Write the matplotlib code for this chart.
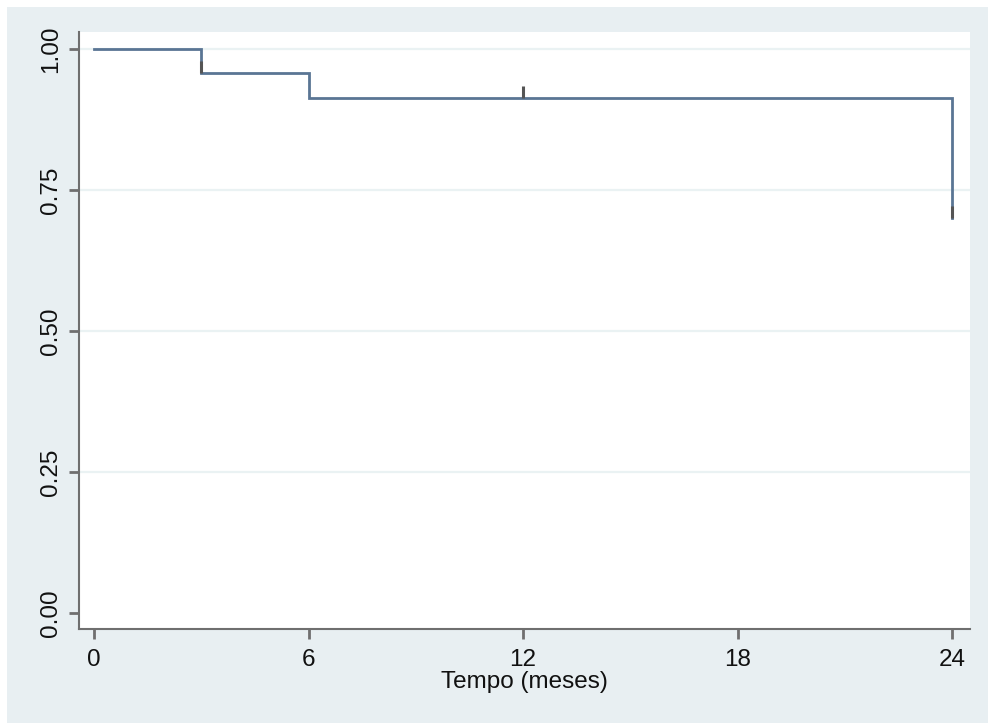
import matplotlib
matplotlib.use("Agg")
import matplotlib.pyplot as plt
from matplotlib.patches import Rectangle

# Kaplan-Meier step data (time in months, survival)
times = [0, 3, 6, 24]
survival = [1.0, 0.957, 0.913, 0.70]
end_time = 24
# censoring marks (time, survival at mark)
censor_times = [3, 12, 24]
censor_surv = [0.957, 0.913, 0.70]

x_ticks = [0, 6, 12, 18, 24]
y_ticks = [0.00, 0.25, 0.50, 0.75, 1.00]
y_tick_labels = ["0.00", "0.25", "0.50", "0.75", "1.00"]
x_label = "Tempo (meses)"

plt.rcParams['font.family'] = ['Liberation Sans', 'DejaVu Sans']

W, H = 988, 723
fig = plt.figure(figsize=(W / 100, H / 100), dpi=100, facecolor='white')
bg = '#e8eff2'
fig.patches.append(Rectangle((7 / W, -0.01), 1.02, 1 - 7 / H + 0.01, transform=fig.transFigure,
                             facecolor=bg, edgecolor='none', zorder=-10))

ax = fig.add_axes([79 / W, 1 - 629 / H, (970 - 79) / W, (629 - 32) / H])
ax.set_facecolor('white')

# step line
step_x = []
step_y = []
for i in range(len(survival)):
    t0 = times[i]
    t1 = times[i + 1] if i + 1 < len(times) else end_time
    if i > 0:
        step_x.append(t0)
        step_y.append(survival[i - 1])
    step_x.append(t0)
    step_y.append(survival[i])
    step_x.append(t1)
    step_y.append(survival[i])

ax.plot(step_x, step_y, color='#5a7594', lw=2.0, solid_joinstyle='miter', zorder=3)

# censor ticks
for t, s in zip(censor_times, censor_surv):
    ax.plot([t, t], [s, s + 0.021], color='#555555', lw=2.2, solid_capstyle='butt', zorder=4)

ax.set_xlim(-0.42, 24.5)
ax.set_ylim(-0.028, 1.03)

ax.set_xticks(x_ticks)
ax.set_xticklabels([str(v) for v in x_ticks])
ax.set_yticks(y_ticks)
ax.set_yticklabels(y_tick_labels, rotation=90, va='center')

for v in y_ticks[1:]:
    ax.axhline(v, color='#eaf2f3', lw=1.6, zorder=1)

for side in ['top', 'right']:
    ax.spines[side].set_visible(False)
for side in ['left', 'bottom']:
    ax.spines[side].set_color('#6f6f6f')
    ax.spines[side].set_linewidth(1.5)

ax.tick_params(axis='both', direction='out', length=7.2, width=2.0, color='#6f6f6f',
               labelsize=17.5, labelcolor='#111111')
ax.tick_params(axis='x', pad=7)
ax.tick_params(axis='y', pad=5)

ax.set_xlabel(x_label, fontsize=17.5, color='#111111', labelpad=0)

fig.savefig('out.png', dpi=100, facecolor='white')
